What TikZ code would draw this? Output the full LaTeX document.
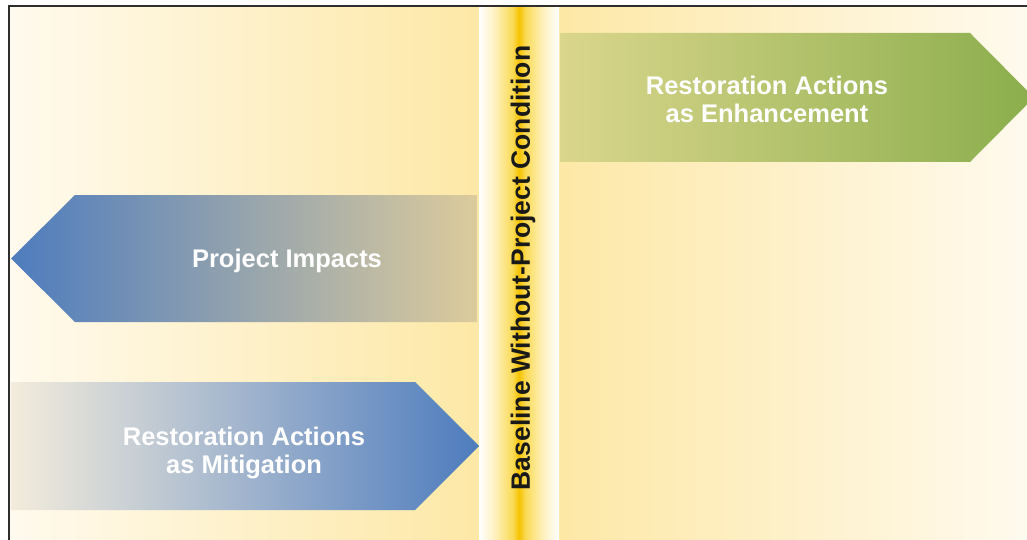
\documentclass[tikz,border=0pt]{standalone}
\usepackage{fontspec}
\setmainfont{Liberation Sans}
\usetikzlibrary{shadings}
\definecolor{cream}{HTML}{FFFAEE}
\definecolor{bgyellow}{HTML}{FDE8A6}
\definecolor{gold}{HTML}{F5C300}
\definecolor{palegold}{HTML}{FFF1BE}
\definecolor{midgold}{HTML}{FADA55}
\definecolor{blueA}{HTML}{4E7CBE}
\definecolor{beige}{HTML}{DCCB9C}
\definecolor{paleL}{HTML}{F3ECDC}
\definecolor{olive}{HTML}{DAD68C}
\definecolor{greenA}{HTML}{8BAE4C}
\definecolor{framec}{HTML}{2E2E2E}
\pgfdeclarehorizontalshading{bandshade}{100bp}{color(0bp)=(white); color(25bp)=(white); color(35bp)=(palegold); color(46bp)=(midgold); color(50bp)=(gold); color(54bp)=(midgold); color(65bp)=(palegold); color(75bp)=(white); color(100bp)=(white)}
\tikzset{
  lbl/.style={text=white, font=\bfseries\fontsize{25.5}{28}\selectfont, align=center, inner sep=0pt},
  vlbl/.style={text=black!90, font=\bfseries\fontsize{26.5}{30}\selectfont, inner sep=0pt, rotate=90}
}
\begin{document}
\begin{tikzpicture}[x=1pt,y=-1pt]
\useasboundingbox (0,0) rectangle (1027,540);
\fill[white] (0,0) rectangle (1027,540);
% backgrounds
\shade[left color=cream, right color=bgyellow] (10,7) rectangle (479,540);
\shade[left color=bgyellow, right color=cream] (559,7) rectangle (1027,540);
\shade[shading=bandshade] (479,7) rectangle (559,540);
% frame
\draw[framec, line width=1.6pt] (9,541) -- (9,6) -- (1028,6);
% arrows
\shade[left color=olive, right color=greenA] (560,33) -- (970,33) -- (1034,97.5) -- (970,162) -- (560,162) -- cycle;
\shade[left color=blueA, right color=beige] (477,195) -- (75,195) -- (11,258.5) -- (75,322) -- (477,322) -- cycle;
\shade[left color=paleL, right color=blueA] (11,382) -- (415,382) -- (479,446) -- (415,510) -- (11,510) -- cycle;
% labels
\node[lbl] (enh) at (767,99) {Restoration Actions\\as Enhancement};
\node[lbl] (imp) at (287,261) {Project Impacts};
\node[lbl] (mit) at (244,453) {Restoration Actions\\as Mitigation};
\node[vlbl] (base) at (523,268) {Baseline Without-Project Condition};
\end{tikzpicture}
\end{document}
